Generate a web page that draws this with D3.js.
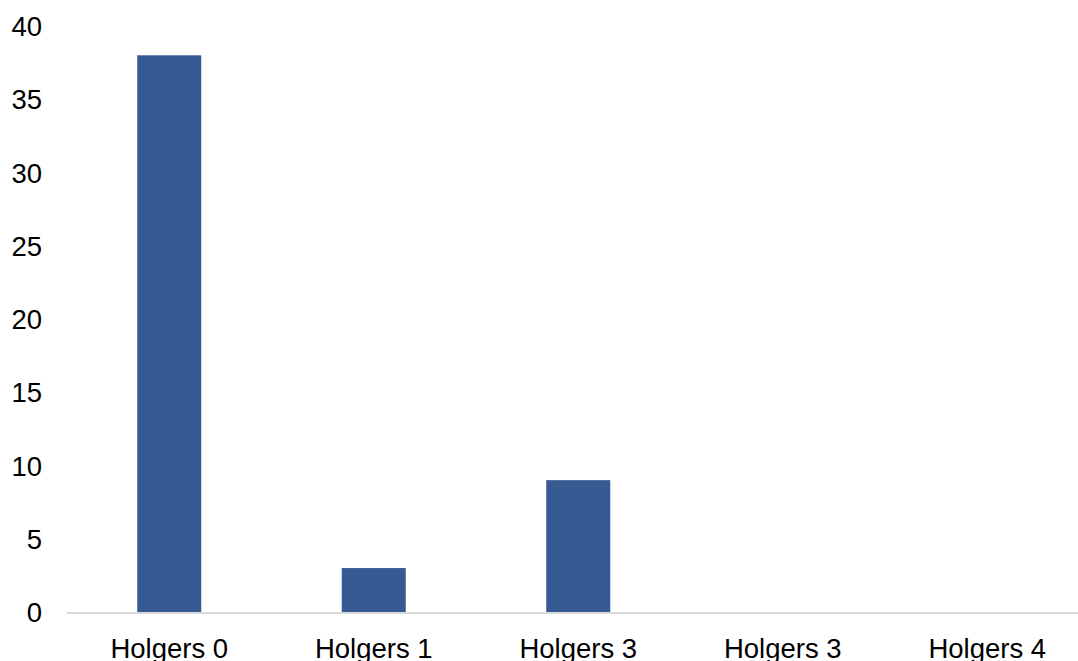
<!DOCTYPE html>
<html>
<head>
<meta charset="utf-8">
<script src="https://cdn.jsdelivr.net/npm/d3@7"></script>
<style>
  body { margin: 0; background: #fff; }
  svg text { font-family: "Liberation Sans", Arial, sans-serif; fill: #000; }
</style>
</head>
<body>
<div id="chart"></div>
<script>
// chart data
var categories = ["Holgers 0", "Holgers 1", "Holgers 3", "Holgers 3", "Holgers 4"];
var values = [38, 3, 9, 0, 0];
var yTicks = [0, 5, 10, 15, 20, 25, 30, 35, 40];

var width = 1078, height = 661;
var barColor = "#385a93";

var svg = d3.select("#chart").append("svg")
	.attr("width", width)
	.attr("height", height);

// band per index, since two labels repeat
var x = d3.scaleBand()
	.domain(d3.range(categories.length))
	.range([67, 1089.5])
	.paddingInner(0.687)
	.paddingOuter(0.3435);

var y = d3.scaleLinear()
	.domain([0, 40])
	.range([612, 26]);

// y tick labels (no axis line)
var yAxis = d3.axisLeft(y).tickValues(yTicks).tickSize(0).tickPadding(0);
var gy = svg.append("g")
	.attr("transform", "translate(42,0)")
	.call(yAxis);
gy.select(".domain").remove();
gy.selectAll("text")
	.attr("font-size", "27.5px")
	.attr("dy", "0.35em")
	.attr("text-anchor", "end")
	.attr("font-family", "Liberation Sans, Arial, sans-serif")
	.style("fill", "#000");

// bars
svg.selectAll("rect.bar")
	.data(values)
	.enter()
	.append("rect")
	.attr("class", "bar")
	.attr("x", function(d, i) { return x(i); })
	.attr("y", function(d) { return y(d); })
	.attr("width", x.bandwidth())
	.attr("height", function(d) { return y(0) - y(d); })
	.attr("fill", barColor);

// baseline
svg.append("line")
	.attr("x1", 67)
	.attr("x2", width)
	.attr("y1", y(0) + 1)
	.attr("y2", y(0) + 1)
	.style("stroke", "#d9d9d9")
	.style("stroke-width", 2);

// category labels
var xAxis = d3.axisBottom(x)
	.tickSize(0)
	.tickPadding(0)
	.tickFormat(function(i) { return categories[i]; });
var gx = svg.append("g")
	.attr("transform", "translate(0,658)")
	.call(xAxis);
gx.select(".domain").remove();
gx.selectAll("text")
	.attr("font-size", "27.5px")
	.attr("dy", "0")
	.attr("font-family", "Liberation Sans, Arial, sans-serif")
	.style("fill", "#000");
</script>
</body>
</html>
